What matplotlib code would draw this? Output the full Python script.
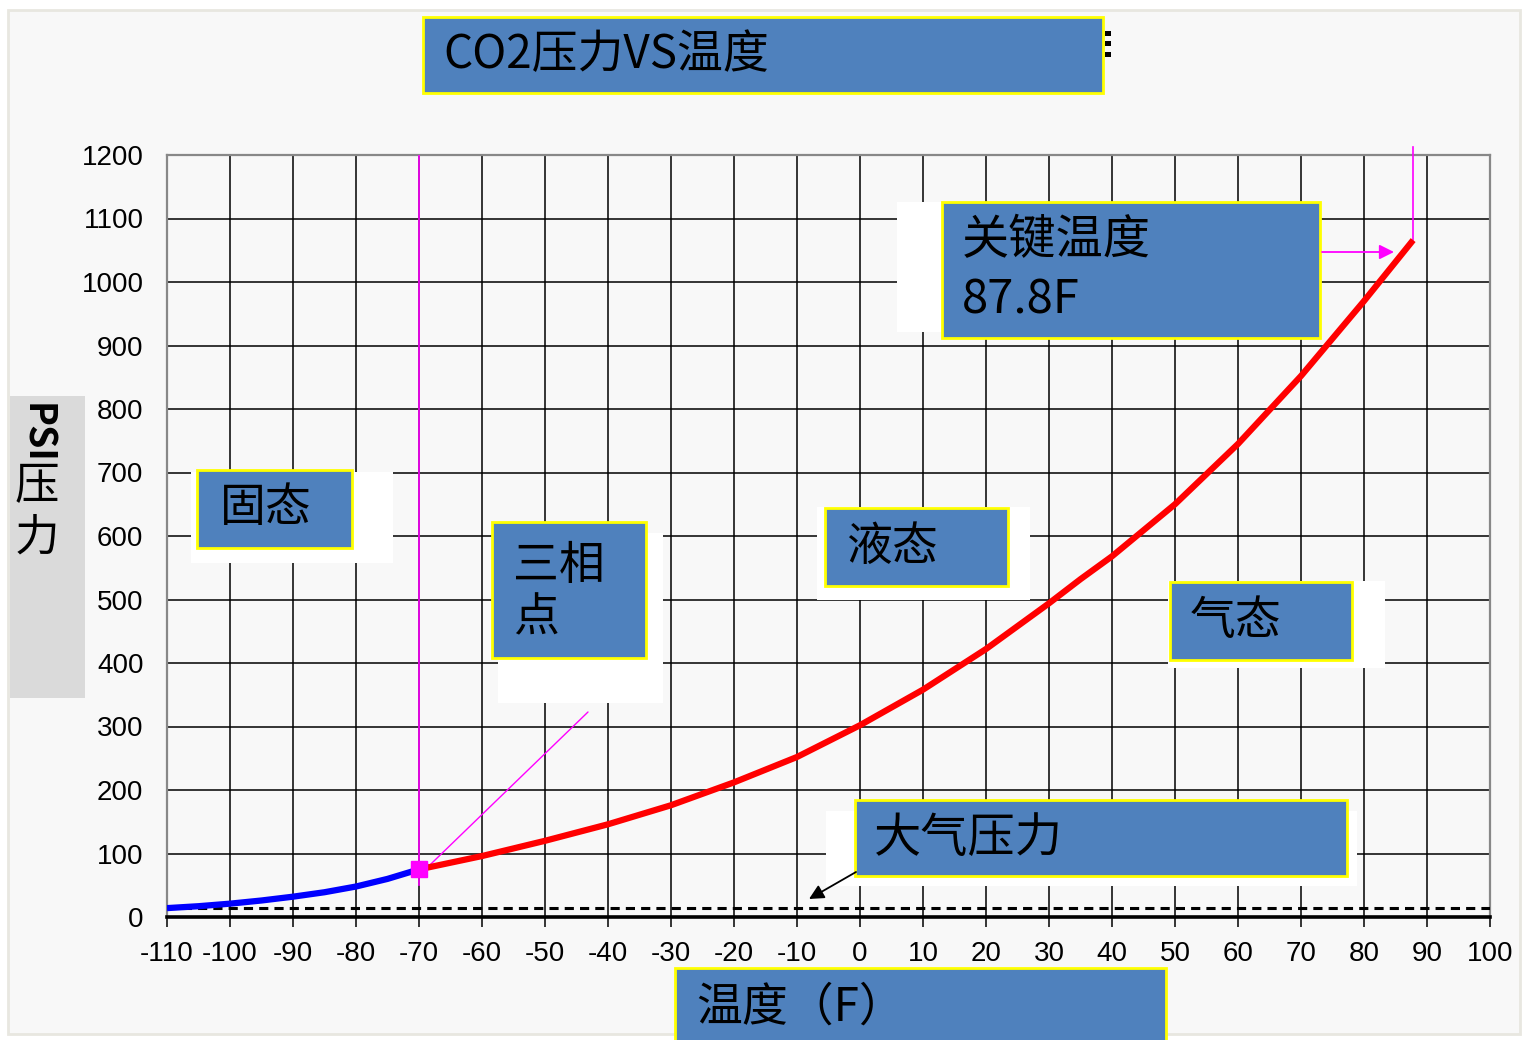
#!/usr/bin/env python3
import matplotlib
matplotlib.use("Agg")
import matplotlib.pyplot as plt
from matplotlib.patches import Rectangle, FancyArrowPatch

# sublimation curve (solid / gas), deg F vs psi
solid_temps = [-110, -105, -100, -95, -90, -85, -80, -75, -70]
solid_psi = [14, 17, 21, 26, 32, 39, 48, 60, 75]

# vapour pressure curve (liquid / gas) up to the critical point
liquid_temps = [-70, -60, -50, -40, -30, -20, -10, 0, 10, 20, 30, 35, 40, 50, 60, 70, 80, 87.8]
liquid_psi = [75, 96, 120, 146, 176, 212, 252, 302, 358, 422, 494, 532, 568, 650, 745, 852, 970, 1066]

triple_point = (-70, 75)
critical_point = (87.8, 1066)
atm_psi = 14.7

x_ticks = list(range(-110, 101, 10))
y_ticks = list(range(0, 1201, 100))

W, H = 1522, 1040
BOX_BLUE = "#4f81bd"
CJK = ["Noto Sans CJK SC", "DejaVu Sans"]

plt.rcParams["axes.unicode_minus"] = False


def fx(x):
    return x / W


def fy(y):
    return 1 - y / H


def rect(fig, x0, y0, x1, y1, face, edge="none", lw=0, z=1):
    r = Rectangle((fx(x0), fy(y1)), (x1 - x0) / W, (y1 - y0) / H,
                  transform=fig.transFigure, facecolor=face, edgecolor=edge,
                  linewidth=lw, zorder=z)
    fig.add_artist(r)


def put_text(fig, tx, ty, text, size=33):
    fig.text(fx(tx), fy(ty), text, ha="left", va="center", fontsize=size,
             family=CJK, color="black", zorder=3)


def label_box(fig, x0, y0, x1, y1, lines, size=33):
    rect(fig, x0, y0, x1, y1, BOX_BLUE, "#ffff00", 2.0, z=2)
    for tx, ty, text in lines:
        put_text(fig, tx, ty, text, size)


def fig_arrow(fig, start, end, color, lw, scale):
    a = FancyArrowPatch((fx(start[0]), fy(start[1])), (fx(end[0]), fy(end[1])),
                        transform=fig.transFigure, arrowstyle="-|>",
                        color=color, linewidth=lw, mutation_scale=scale,
                        shrinkA=0, shrinkB=0, zorder=4)
    fig.add_artist(a)


fig = plt.figure(figsize=(W / 100, H / 100), dpi=100, facecolor="white")
rect(fig, 8, 10, 1520, 1034, "#f8f8f8", "#e8e7e0", 2.0, z=-5)

ax = fig.add_axes([fx(167), fy(917), (1490 - 167) / W, (917 - 155) / H])
ax.set_facecolor("#f8f8f8")
ax.set_xlim(-110, 100)
ax.set_ylim(0, 1200)
ax.set_xticks(x_ticks)
ax.set_yticks(y_ticks)
ax.grid(True, color="black", linewidth=1.1)
ax.set_axisbelow(True)
ax.tick_params(axis="x", length=7, width=1.1, color="black", pad=10,
               labelsize=20)
ax.tick_params(axis="y", length=0, pad=17, labelsize=20)
for lab in ax.get_xticklabels() + ax.get_yticklabels():
    lab.set_family("Liberation Sans")
for side in ("left", "top", "right"):
    ax.spines[side].set_color("#888888")
    ax.spines[side].set_linewidth(1.6)
ax.spines["bottom"].set_color("black")
ax.spines["bottom"].set_linewidth(2.6)

# atmospheric pressure
ax.axhline(atm_psi, color="black", linewidth=2.2, dashes=(3, 2), zorder=3)

# triple point guide
ax.plot([triple_point[0], triple_point[0]], [50, 1200], color="#ff00ff",
        linewidth=1.2, zorder=3)
# critical point guide
ax.plot([critical_point[0], critical_point[0]], [critical_point[1], 1213],
        color="#ff00ff", linewidth=1.2, clip_on=False, zorder=3)

ax.plot(solid_temps, solid_psi, color="#0000ff", linewidth=4.5,
        solid_capstyle="butt", zorder=4)
ax.plot(liquid_temps, liquid_psi, color="#ff0000", linewidth=4.5,
        solid_capstyle="butt", zorder=4)
ax.plot([triple_point[0]], [triple_point[1]], marker="s", markersize=11,
        color="#ff00ff", zorder=5)

# triple point pointer
ax.annotate("", xy=(triple_point[0] + 0.8, triple_point[1] - 2),
            xytext=(fx(588), fy(712)), textcoords="figure fraction",
            arrowprops=dict(arrowstyle="-|>", color="#ff00ff", lw=1.0,
                            mutation_scale=10, shrinkA=0, shrinkB=0))

# white backings behind the labels
rect(fig, 191, 472, 393, 563, "white")
rect(fig, 498, 533, 663, 703, "white")
rect(fig, 817, 507, 1030, 600, "white")
rect(fig, 1168, 581, 1385, 668, "white")
rect(fig, 897, 202, 942, 332, "white")
rect(fig, 826, 811, 1357, 886, "white")

# pointers drawn over the backings
fig_arrow(fig, (1322, 252), (1394, 252), "#ff00ff", 1.3, 22)
fig_arrow(fig, (856, 872), (809, 899), "black", 1.3, 22)

label_box(fig, 423, 17, 1103, 93, [(443, 55, "CO2压力VS温度")], size=33)
for yy in (33, 43, 54):
    rect(fig, 1105, yy - 2, 1111, yy + 3, "black", z=3)
label_box(fig, 942, 202, 1320, 338,
          [(962, 241, "关键温度"), (962, 300, "87.8F")], size=34)
label_box(fig, 197, 470, 352, 548, [(220, 508, "固态")])
label_box(fig, 492, 522, 646, 658, [(513, 566, "三相"), (513, 618, "点")])
label_box(fig, 825, 508, 1008, 586, [(846, 547, "液态")])
label_box(fig, 1170, 582, 1352, 660, [(1190, 621, "气态")])
label_box(fig, 855, 800, 1347, 876, [(874, 839, "大气压力")], size=34)
label_box(fig, 675, 968, 1166, 1045, [(696, 1007, "温度（F）")])

# y axis title: vertical layout
rect(fig, 10, 396, 85, 698, "#dadada", z=1)
fig.text(fx(37), fy(433), "PSI", rotation=270, ha="center", va="center",
         fontsize=27, family=CJK, fontweight="bold", zorder=3)
fig.text(fx(37), fy(486), "压", ha="center", va="center", fontsize=32,
         family=CJK, zorder=3)
fig.text(fx(37), fy(538), "力", ha="center", va="center", fontsize=32,
         family=CJK, zorder=3)

fig.savefig("out.png", dpi=100, facecolor=fig.get_facecolor())
